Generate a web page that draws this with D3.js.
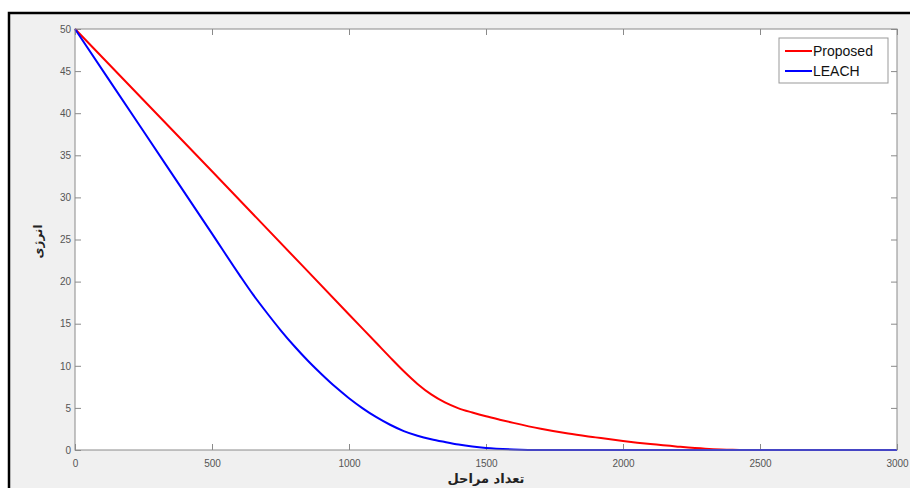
<!DOCTYPE html>
<html><head><meta charset="utf-8">
<script src="https://cdn.jsdelivr.net/npm/d3@7"></script>
<style>
html,body{margin:0;padding:0;background:#fff;}
svg{display:block;}
</style></head>
<body>
<svg id="chart" width="910" height="488"></svg>
<script>
// Data
const roundsProposed = [0, 500, 1000, 1100, 1150, 1200, 1250, 1300, 1350, 1400, 1450, 1500, 1550, 1600, 1700, 1800, 1900, 2000, 2100, 2200, 2300, 2400, 2500, 3000];
const energyProposed = [50, 33.1, 16.1, 12.7, 11.0, 9.35, 7.85, 6.6, 5.65, 4.95, 4.45, 4.0, 3.6, 3.22, 2.52, 1.95, 1.5, 1.07, 0.7, 0.4, 0.15, 0.02, 0, 0];
const roundsLeach = [0, 250, 500, 600, 650, 700, 750, 800, 850, 900, 950, 1000, 1050, 1100, 1150, 1200, 1250, 1300, 1350, 1400, 1450, 1500, 1600, 1700, 3000];
const energyLeach = [50, 37.85, 25.7, 20.8, 18.45, 16.3, 14.25, 12.35, 10.6, 9.0, 7.5, 6.15, 4.95, 3.9, 3.0, 2.25, 1.7, 1.28, 0.95, 0.65, 0.42, 0.25, 0.07, 0, 0];
const xTicks = [0, 500, 1000, 1500, 2000, 2500, 3000];
const yTicks = [0, 5, 10, 15, 20, 25, 30, 35, 40, 45, 50];
const seriesNames = ["Proposed", "LEACH"];
const seriesColors = ["#ff0000", "#0000ff"];
const xLabel = "تعداد مراحل";
const yLabel = "انرژی";

const svg = d3.select("#chart");
// figure frame
svg.append("rect").attr("x", 9).attr("y", 13).attr("width", 920).attr("height", 500)
  .attr("fill", "#f0f0f0").attr("stroke", "#000").attr("stroke-width", 2.5);

const L = 75, R = 897, T = 29, B = 450;
const x = d3.scaleLinear().domain([0, 3000]).range([L, R]);
const y = d3.scaleLinear().domain([0, 50]).range([B, T]);

svg.append("rect").attr("x", L).attr("y", T).attr("width", R - L).attr("height", B - T).attr("fill", "#fff");

const font = "Liberation Sans, Arial, Helvetica, sans-serif";
const axisColor = "#8a8a8a";
function styleAxis(g) {
  g.select(".domain").remove();
  g.selectAll("line").attr("stroke", axisColor);
  g.selectAll("text").attr("fill", "#555").style("font-family", font).style("font-size", "10px");
}
svg.append("g").attr("transform", `translate(0,${B})`)
  .call(d3.axisBottom(x).tickValues(xTicks).tickFormat(d3.format("d")).tickSizeInner(-6).tickSizeOuter(0).tickPadding(10))
  .call(styleAxis);
svg.append("g").attr("transform", `translate(0,${T})`)
  .call(d3.axisTop(x).tickValues(xTicks).tickSizeInner(-6).tickSizeOuter(0).tickFormat(""))
  .call(styleAxis);
svg.append("g").attr("transform", `translate(${L},0)`)
  .call(d3.axisLeft(y).tickValues(yTicks).tickFormat(d3.format("d")).tickSizeInner(-6).tickSizeOuter(0).tickPadding(4))
  .call(styleAxis);
svg.append("g").attr("transform", `translate(${R},0)`)
  .call(d3.axisRight(y).tickValues(yTicks).tickSizeInner(-6).tickSizeOuter(0).tickFormat(""))
  .call(styleAxis);

const line = d3.line().x(d => x(d[0])).y(d => y(d[1])).curve(d3.curveMonotoneX);
const series = [
  d3.zip(roundsProposed, energyProposed),
  d3.zip(roundsLeach, energyLeach)
];
series.forEach((s, i) => {
  svg.append("path").datum(s).attr("d", line).attr("fill", "none")
    .attr("stroke", seriesColors[i]).attr("stroke-width", 2);
});

// axis box
svg.append("rect").attr("x", L).attr("y", T).attr("width", R - L).attr("height", B - T)
  .attr("fill", "none").attr("stroke", axisColor).attr("stroke-width", 1);

// legend
const lg = svg.append("g").attr("transform", "translate(779,38)");
lg.append("rect").attr("width", 109).attr("height", 45).attr("fill", "#fff").attr("stroke", "#999");
seriesNames.forEach((n, i) => {
  const yy = 13 + i * 20;
  lg.append("line").attr("x1", 6).attr("x2", 33).attr("y1", yy).attr("y2", yy)
    .attr("stroke", seriesColors[i]).attr("stroke-width", 2);
  lg.append("text").attr("x", 34).attr("y", yy + 5).text(n)
    .style("font-family", font).style("font-size", "14px").attr("fill", "#111");
});

// axis labels
svg.append("text").attr("x", (L + R) / 2).attr("y", 483).attr("text-anchor", "middle")
  .text(xLabel).style("font-family", "DejaVu Sans, Noto Sans, sans-serif").style("font-size", "13px")
  .style("font-weight", "bold").attr("fill", "#222");
svg.append("text").attr("transform", `translate(42,${(T + B) / 2 + 2}) rotate(-90)`).attr("text-anchor", "middle")
  .text(yLabel).style("font-family", "DejaVu Sans, Noto Sans, sans-serif").style("font-size", "12px")
  .style("font-weight", "bold").attr("fill", "#222");
</script>
</body></html>
